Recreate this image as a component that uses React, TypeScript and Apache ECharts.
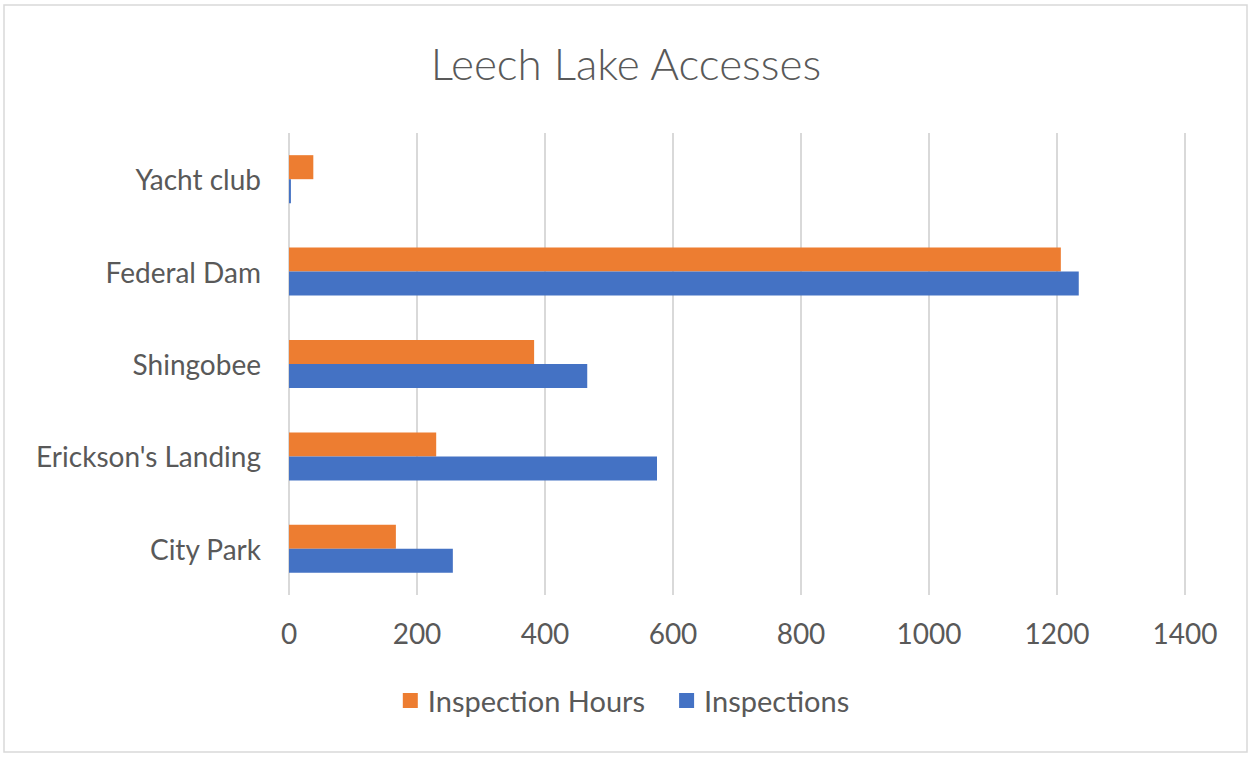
import React, { useEffect, useRef } from "react";
import * as echarts from "echarts";

const categories = ["City Park", "Erickson's Landing", "Shingobee", "Federal Dam", "Yacht club"];
const inspectionHours = [167, 230, 383, 1206, 38];
const inspections = [256, 575, 466, 1234, 3];
const xTicks = { min: 0, max: 1400, interval: 200 };

const FONT = "Lato, 'Open Sans', sans-serif";
const TEXT = "#595959";

export default function App() {
  const ref = useRef<HTMLDivElement>(null);
  useEffect(() => {
    const chart = echarts.init(ref.current!, undefined, { renderer: "svg" });
    chart.setOption({
      animation: false,
      backgroundColor: "#ffffff",
      title: {
        text: "Leech Lake Accesses",
        left: "center",
        top: 36,
        textStyle: { fontFamily: FONT, fontSize: 44, fontWeight: 300, color: TEXT },
      },
      graphic: [
        {
          type: "rect",
          shape: { x: 4, y: 5, width: 1243, height: 747 },
          style: { fill: "none", stroke: "#d9d9d9", lineWidth: 1.5 },
          silent: true,
        },
      ],
      legend: {
        data: ["Inspection Hours", "Inspections"],
        bottom: 38,
        left: "center",
        icon: "rect",
        itemWidth: 15,
        itemHeight: 15,
        itemGap: 34,
        textStyle: { fontFamily: FONT, fontSize: 29, color: TEXT, padding: [0, 0, 0, 5] },
      },
      grid: { left: 289, right: 67, top: 133, bottom: 163 },
      xAxis: {
        type: "value",
        min: xTicks.min,
        max: xTicks.max,
        interval: xTicks.interval,
        axisLine: { show: false },
        axisTick: { show: false },
        axisLabel: {
          fontFamily: FONT,
          fontSize: 28,
          color: TEXT,
          margin: 24,
          formatter: (v: number) => String(v),
        },
        splitLine: { show: true, lineStyle: { color: "#d9d9d9", width: 2 } },
      },
      yAxis: {
        type: "category",
        data: categories,
        axisLine: { show: false },
        axisTick: { show: false },
        axisLabel: { fontFamily: FONT, fontSize: 28, color: TEXT, margin: 28 },
      },
      series: [
        {
          name: "Inspection Hours",
          type: "bar",
          data: inspectionHours,
          itemStyle: { color: "#ED7D31" },
          barGap: "0%",
          barCategoryGap: "48%",
        },
        {
          name: "Inspections",
          type: "bar",
          data: inspections,
          itemStyle: { color: "#4472C4" },
          barGap: "0%",
          barCategoryGap: "48%",
        },
      ],
    });
    return () => chart.dispose();
  }, []);
  return (
    <div
      ref={ref}
      style={{ position: "fixed", left: 0, top: 0, width: 1252, height: 758 }}
    />
  );
}
